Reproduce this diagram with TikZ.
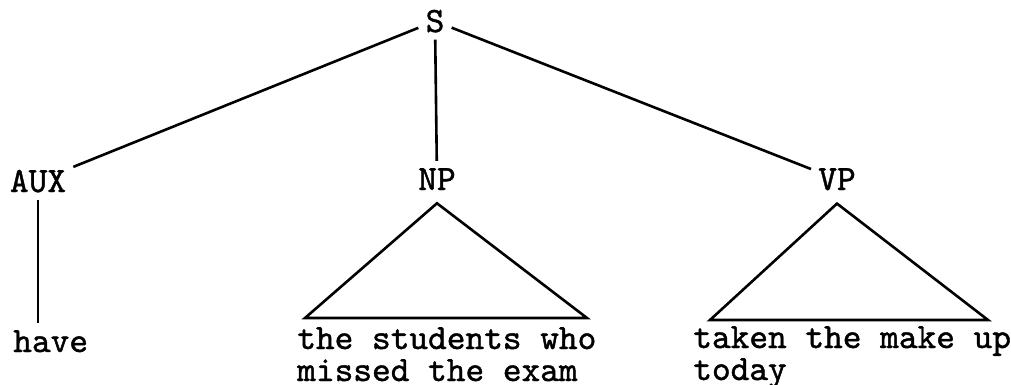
\documentclass[tikz,border=0pt]{standalone}
\usepackage{fontspec}
\newfontfamily\typew{lmmono10-regular.otf}[FakeBold=1.2]
\begin{document}
\begin{tikzpicture}[x=0.5pt,y=-0.5pt, line width=1.3pt,
  cat/.style={font=\fontsize{17.8}{16}\selectfont\typew, inner sep=3pt, anchor=base},
  words/.style={font=\fontsize{17.8}{16}\selectfont\typew, inner sep=0pt, anchor=base west, align=left}]
  \useasboundingbox (0,0) rectangle (1011,385);
  % categories
  \node[cat] (s) at (435,32) {S};
  \node[cat] (aux) at (38,192) {AUX};
  \node[cat] (np) at (437,190) {NP};
  \node[cat] (vp) at (837,190) {VP};
  % terminal strings
  \node[words] (have) at (12,352) {have};
  \node[words] (npw) at (296,381) {the students who\\missed the exam};
  \node[words] (vpw) at (692,380) {taken the make up\\today};
  \coordinate (npl) at (305,318); \coordinate (npr) at (587,318);
  \coordinate (vpl) at (710,320); \coordinate (vpr) at (988,320);
  % branches
  \draw (s) -- (aux);
  \draw (s) -- (np);
  \draw (s) -- (vp);
  \draw (aux) -- ([yshift=3pt]aux |- have.north);
  \draw ([yshift=-3pt]np.south) -- (npl) -- (npr) -- cycle;
  \draw ([yshift=-3pt]vp.south) -- (vpl) -- (vpr) -- cycle;
\end{tikzpicture}
\end{document}
